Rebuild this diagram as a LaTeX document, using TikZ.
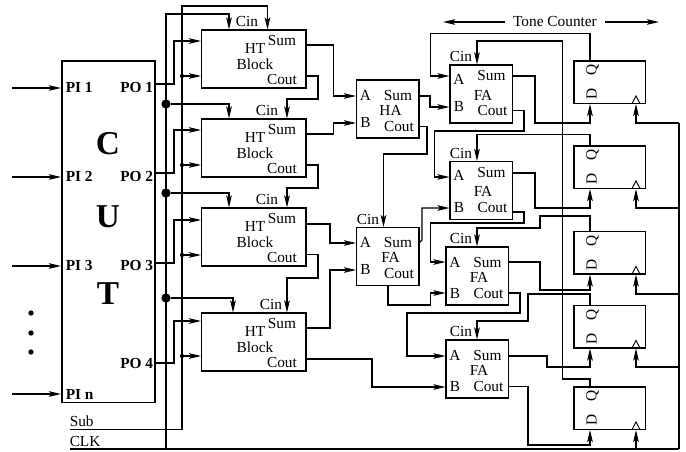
\documentclass[tikz,border=0pt]{standalone}
\usepackage{fontspec}
\setmainfont{Liberation Serif}
\usetikzlibrary{arrows.meta}
\tikzset{
  px/.style={x=0.75pt,y=-0.75pt},
  boxn/.style={draw,line width=1pt,inner sep=0pt,outer sep=0pt,anchor=north west},
  wire/.style={line width=0.95pt,line join=miter},
  arr/.style={wire,-{Stealth[length=9pt,width=4.2pt,inset=2pt]}},
  lab/.style={inner sep=0pt,font=\fontsize{11.5}{12}\selectfont},
  blab/.style={inner sep=0pt,font=\fontsize{11.5}{12}\selectfont\bfseries},
  hugelab/.style={inner sep=0pt,font=\fontsize{25}{26}\selectfont\bfseries},
  rlab/.style={lab,rotate=90},
  bigdot/.style={circle,fill,inner sep=0pt,minimum size=7pt},
  smalldot/.style={circle,fill,inner sep=0pt,minimum size=3.2pt},
}
\newcommand{\bx}[5]{%
  \pgfmathsetmacro{\bw}{(#4-#2)*0.75}\pgfmathsetmacro{\bh}{(#5-#3)*0.75}%
  \node[boxn,minimum width=\bw pt,minimum height=\bh pt] (#1) at (#2,#3) {};}
% name, left, top, Cin x, Cin y
\newcommand{\htblock}[5]{%
  \bx{#1}{#2}{#3}{306}{#3+58}%
  \node[lab] (#1cin) at (#4,#5) {Cin};
  \node[lab] (#1sum) at (282,#3+10.5) {Sum};
  \node[lab] (#1ht) at (255,#3+18) {HT};
  \node[lab] (#1blk) at (255,#3+34) {Block};
  \node[lab] (#1cout) at (282,#3+49) {Cout};}
% name, left, top, kind, y of A, y of Sum, y of B, x of kind, y of Cout
\newcommand{\fablock}[9]{%
  \bx{#1}{#2}{#3}{#2+62.5}{#3+58}%
  \node[lab] (#1a) at (#2+9,#3+#5) {A};
  \node[lab] (#1s) at (#2+41.5,#3+#6) {Sum};
  \node[lab] (#1k) at (#2+#8,#3+30) {#4};
  \node[lab] (#1b) at (#2+9,#3+#7) {B};
  \node[lab] (#1c) at (#2+42.5,#3+#9) {Cout};}
\newcommand{\ffblock}[2]{%
  \bx{#1}{574}{#2}{645.5}{#2+42.5}%
  \node[rlab] (#1q) at (592.5,#2+9) {Q};
  \node[rlab] (#1d) at (591.5,#2+33) {D};
  \draw[line width=0.7pt] (632,#2+42.5) -- (636,#2+35) -- (640,#2+42.5);}
\begin{document}
\begin{tikzpicture}[px]
\useasboundingbox (0,0) rectangle (686,451);
% CUT
\bx{cut}{62}{61}{155}{402.5}
\node[hugelab] (lc) at (108,144) {C};
\node[hugelab] (lu) at (108,217) {U};
\node[hugelab] (lt) at (108,294) {T};
\node[blab,anchor=west] (pi1) at (65.5,87) {PI 1};
\node[blab,anchor=west] (pi2) at (65.5,176) {PI 2};
\node[blab,anchor=west] (pi3) at (65.5,265) {PI 3};
\node[blab,anchor=west] (pin) at (65.5,394) {PI n};
\node[blab,anchor=west] (po1) at (120,87) {PO 1};
\node[blab,anchor=west] (po2) at (120,176) {PO 2};
\node[blab,anchor=west] (po3) at (120,265) {PO 3};
\node[blab,anchor=west] (po4) at (120,363) {PO 4};
\foreach \n/\y in {a/88,b/177,c/266,d/394}{
  \coordinate (in\n) at (12,\y);
  \coordinate (cutin\n) at (61,\y);
  \draw[arr] (in\n) -- (cutin\n);
}
\foreach \y in {313,333,352}{\fill (31,\y) circle (2pt);}
% HT blocks
\htblock{hta}{201.5}{30}{247}{21}
\htblock{htb}{201.5}{119}{267}{110}
\htblock{htc}{201.5}{208}{267}{199}
\htblock{htd}{201.5}{313}{271}{304}
% adders
\fablock{ha}{356.5}{80}{HA}{15}{15}{42}{34}{46}
\fablock{faz}{356.5}{227.5}{FA}{15}{15}{42}{34}{46}
\fablock{faa}{450}{65}{FA}{14}{10.5}{41}{33}{45}
\fablock{fab}{450}{161.5}{FA}{14}{10.5}{46}{33}{46}
\fablock{fac}{446}{247}{FA}{15}{15}{46}{33}{46}
\fablock{fad}{446}{340}{FA}{15}{15}{46}{33}{46}
\node[lab] (cinz) at (368,219) {Cin};
\node[lab] (cina) at (461,56) {Cin};
\node[lab] (cinb) at (461,153) {Cin};
\node[lab] (cinc) at (461,238) {Cin};
\node[lab] (cind) at (461,331) {Cin};
% flip-flops
\ffblock{ffa}{61}
\ffblock{ffb}{146}
\ffblock{ffc}{231.5}
\ffblock{ffd}{305.5}
\ffblock{ffe}{387}
% tone counter
\node[lab] (tone) at (555,21) {Tone Counter};
\coordinate (tl) at (443,22);
\coordinate (tr) at (659,22);
\draw[arr] ([shift={(-8,1)}]tone.west) -- (tl);
\draw[arr] ([shift={(8,1)}]tone.east) -- (tr);
% Sub, CLK
\node[lab,anchor=west] (sub) at (69.5,421) {Sub};
\node[lab,anchor=west] (clk) at (69.5,441) {CLK};
\coordinate (subl) at (70,429.5);
\coordinate (clkl) at (70,449);
\coordinate (clkr) at (679,449);
\coordinate (clkt) at (679,123);
\draw[arr] (subl) -- (182,429.5) -- (182,6) -- (267.5,6) -- (267.5,29.5);
\draw[wire,line width=1.2pt] (clkl) -- (clkr);
\draw[wire] (clkr) -- (clkt);
\draw[arr] (166,449) -- (166,14) -- (229,14) -- (229,29.5);
% junctions
\node[bigdot] (ja) at (166,104) {};
\node[bigdot] (jb) at (166,193) {};
\node[bigdot] (jc) at (166,298) {};
\draw[arr] (ja) -- (229,104) -- (229,118.5);
\draw[arr] (jb) -- (229,193) -- (229,207.5);
\draw[arr] (jc) -- (233,298) -- (233,312.5);
\node[smalldot] (sa) at (182,76) {};
\node[smalldot] (sb) at (182,165) {};
\node[smalldot] (sc) at (182,255) {};
\node[smalldot] (sd) at (182,356) {};
\draw[arr] (sa) -- (201,76);
\draw[arr] (sb) -- (201,165);
\draw[arr] (sc) -- (201,255);
\draw[arr] (sd) -- (201,356);
% PO to HT
\draw[arr] (155,84) -- (174,84) -- (174,41) -- (201,41);
\draw[arr] (155,173) -- (174,173) -- (174,130) -- (201,130);
\draw[arr] (155,263) -- (174,263) -- (174,220) -- (201,220);
\draw[arr] (155,363) -- (174,363) -- (174,321) -- (201,321);
% HT carry chain
\draw[arr] (306,76) -- (318,76) -- (318,99) -- (287,99) -- (287,118.5);
\draw[arr] (306,165) -- (318,165) -- (318,188) -- (287,188) -- (287,207.5);
\draw[arr] (306,254.5) -- (318,254.5) -- (318,278) -- (287,278) -- (287,312.5);
% HT sums
\draw[arr] (306,45) -- (333.5,45) -- (333.5,96) -- (356,96);
\draw[arr] (306,134) -- (333.5,134) -- (333.5,123) -- (356,123);
\draw[arr] (306,224) -- (330,224) -- (330,243) -- (356,243);
\draw[arr] (306,328) -- (330,328) -- (330,270) -- (356,270);
% HA
\draw[arr] (419,96) -- (430,96) -- (430,107) -- (449.5,107);
\draw[arr] (419,126.5) -- (427,126.5) -- (427,154) -- (383.5,154) -- (383.5,227);
% FA0
\draw[arr] (419,243) -- (422,240) -- (422,208) -- (449.5,208);
\draw[arr] (388,285.5) -- (388,305) -- (430.5,305) -- (430.5,293) -- (445.5,293);
% FA1
\draw[arr] (512,76) -- (535,76) -- (535,123) -- (590,123) -- (590,104);
\draw[arr] (590,61) -- (590,33.5) -- (430.5,33.5) -- (430.5,76) -- (449.5,76);
\draw[arr] (590,387) -- (590,379) -- (562.5,379) -- (562.5,41) -- (477,41) -- (477,64.5);
\draw[arr] (512,110.5) -- (524,110.5) -- (524,131) -- (434.5,131) -- (434.5,177) -- (449.5,177);
% FA2
\draw[arr] (590,146) -- (590,134.5) -- (477,134.5) -- (477,161);
\draw[arr] (512,173) -- (535,173) -- (535,208) -- (590,208) -- (590,189);
\draw[arr] (512,212) -- (524,212) -- (524,223) -- (430.5,223) -- (430.5,262) -- (445.5,262);
% FA3
\draw[arr] (590,231.5) -- (590,216) -- (540,216) -- (540,228) -- (477,228) -- (477,246.5);
\draw[arr] (508,262) -- (540,262) -- (540,290) -- (590,290) -- (590,274.5);
\draw[arr] (508,293) -- (520,293) -- (520,313) -- (407,313) -- (407,356) -- (445.5,356);
% FA4
\draw[arr] (590,305.5) -- (590,294) -- (528,294) -- (528,321) -- (477,321) -- (477,339.5);
\draw[arr] (508,356) -- (547,356) -- (547,367) -- (590,367) -- (590,348.5);
\draw[arr] (508,386.5) -- (528,386.5) -- (528,445) -- (590,445) -- (590,430);
\draw[arr] (306,359) -- (372,359) -- (372,387) -- (445.5,387);
% clocks
\draw[arr] (679,123) -- (636,123) -- (636,104);
\draw[arr] (679,208) -- (636,208) -- (636,189);
\draw[arr] (679,294) -- (636,294) -- (636,274.5);
\draw[arr] (679,367) -- (636,367) -- (636,348.5);
\draw[arr] (636,449) -- (636,430);
\end{tikzpicture}
\end{document}
